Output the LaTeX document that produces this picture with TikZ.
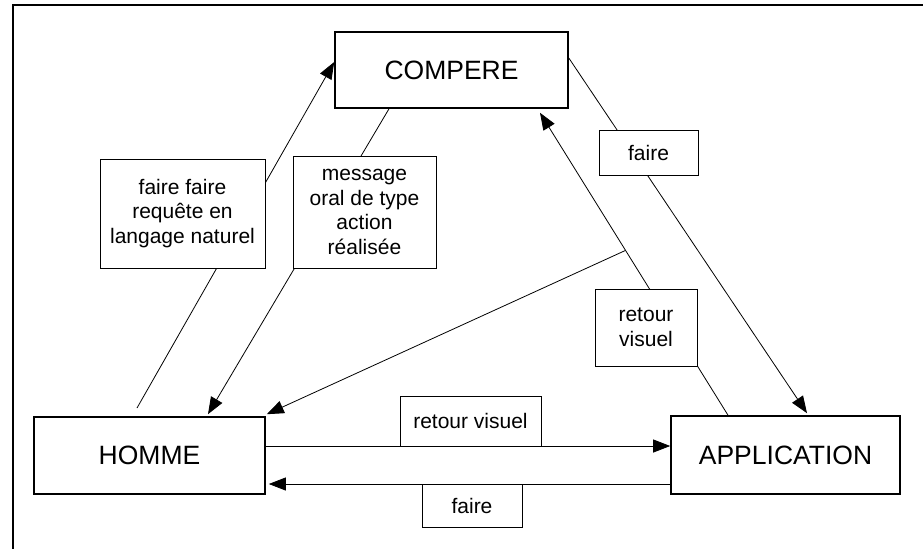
\documentclass[tikz,border=0pt]{standalone}
\usepackage{fontspec}
\setmainfont{Liberation Sans}
\usetikzlibrary{arrows.meta,backgrounds,calc}
\tikzset{
  mainbox/.style={draw, line width=1.6pt, fill=white, inner sep=0pt, font=\fontsize{26.5}{30}\selectfont},
  lab/.style={draw, line width=0.7pt, fill=white, align=center, inner sep=0pt, font=\fontsize{21}{24.5}\selectfont},
  conn/.style={line width=0.8pt},
  arr/.style={conn, -{Triangle[length=17pt,width=13pt]}},
  frameline/.style={line width=1.6pt}
}
\begin{document}
\begin{tikzpicture}[x=1pt,y=-1pt]
\useasboundingbox (0,0) rectangle (923,549);
% frame
\coordinate (f0) at (12,5);
\coordinate (f1) at (923,5);
\coordinate (f2) at (13,549);
\draw[frameline] (f0) -- (f1);
\draw[frameline] (13,5) -- (f2);
% main boxes
\node[mainbox, minimum width=233pt, minimum height=76pt] (comp) at (451.5,70) {COMPERE};
\node[mainbox, minimum width=231pt, minimum height=77pt] (homme) at (149.5,455.5) {HOMME};
\node[mainbox, minimum width=229pt, minimum height=78pt] (app) at (785.5,455) {APPLICATION};
% labels
\node[lab, minimum width=165pt, minimum height=109pt] (lff) at (182.5,213.5) {faire faire\\requête en\\langage naturel};
\node[lab, minimum width=143pt, minimum height=112pt] (lmsg) at (364.5,212) {message\\oral de type\\action\\réalisée};
\node[lab, minimum width=99pt, minimum height=45pt] (lfr) at (648.5,152.5) {faire};
\node[lab, minimum width=102pt, minimum height=77pt] (lrr) at (646,327.5) {retour\\visuel};
\node[lab, minimum width=141pt, minimum height=50pt] (lrb) at (470.5,421) {retour visuel};
\node[lab, minimum width=100pt, minimum height=43pt] (lfb) at (472,505.5) {faire};
% connectors
\begin{pgfonlayer}{background}
\coordinate (hf) at (137,408);
\draw[arr] (hf) -- ([yshift=8pt]comp.west);
\draw[arr] ([xshift=-62.5pt]comp.south) -- ([xshift=58.5pt,yshift=2pt]homme.north);
\draw[arr] ([yshift=12pt]comp.east) -- ([xshift=21.5pt,yshift=2pt]app.north);
\coordinate (r1) at ([xshift=-57.5pt]app.north);
\coordinate (r2) at ([xshift=88.5pt,yshift=-4pt]comp.south);
\draw[arr] (r1) -- (r2);
\coordinate (j) at ($(r1)!0.545!(r2)$);
\draw[arr] (j) -- ([xshift=1pt,yshift=2pt]homme.north east);
\draw[arr] ([yshift=9.5pt]homme.east) -- ([yshift=9pt]app.west);
\draw[arr] ([yshift=-29pt]app.west) -- ([yshift=-28.5pt,xshift=3pt]homme.east);
\end{pgfonlayer}
\end{tikzpicture}
\end{document}
